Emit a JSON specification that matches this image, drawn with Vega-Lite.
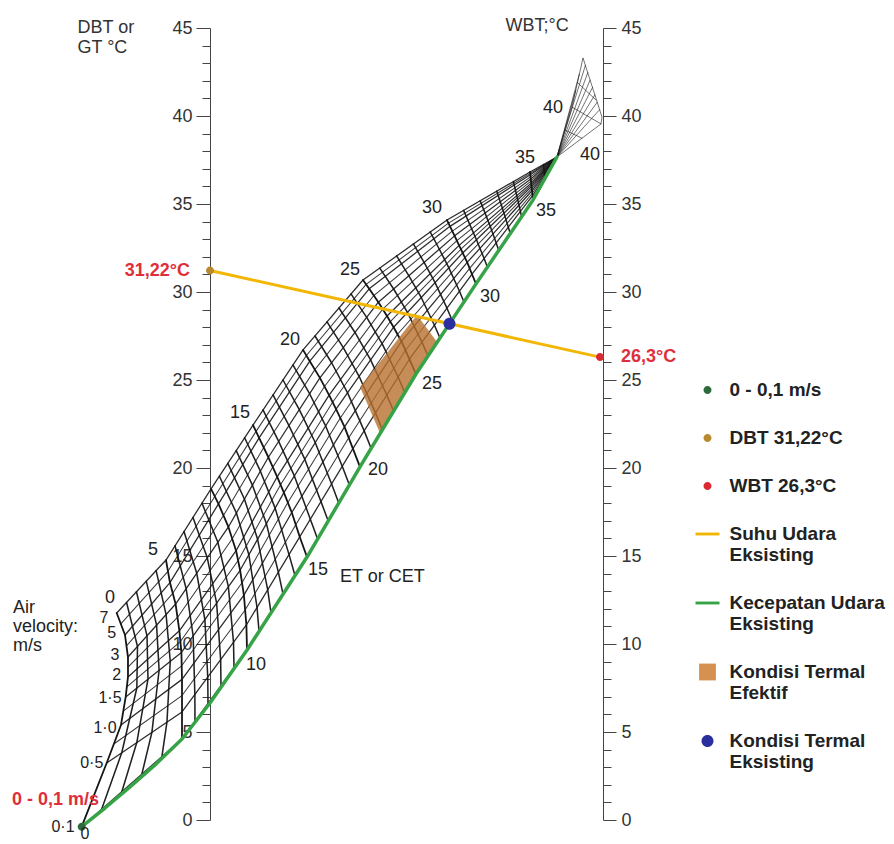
{
"$schema":"https://vega.github.io/schema/vega-lite/v6.json",
"width":393,"height":792,
"autosize":{"type":"none"},
"padding":{"left":210,"top":28,"right":291,"bottom":24},
"background":"white",
"config":{"view":{"stroke":null},"font":"Liberation Sans","text":{"font":"Liberation Sans"}},
"datasets":{
"grid":[
{"line":"v0.1","kind":"velocity major","i":0,"pos":-32.9,"temp":-0.38},{"line":"v0.1","kind":"velocity major","i":1,"pos":-7.18,"temp":4.6},{"line":"v0.1","kind":"velocity major","i":2,"pos":9.49,"temp":9.66},{"line":"v0.1","kind":"velocity major","i":3,"pos":24.87,"temp":14.94},{"line":"v0.1","kind":"velocity major","i":4,"pos":38.46,"temp":20.06},{"line":"v0.1","kind":"velocity major","i":5,"pos":52.82,"temp":25.34},{"line":"v0.1","kind":"velocity major","i":6,"pos":68.21,"temp":30.46},{"line":"v0.1","kind":"velocity major","i":7,"pos":82.82,"temp":35.23},{"line":"v0.1","kind":"velocity major","i":8,"pos":88.97,"temp":37.67},
{"line":"v0.5","kind":"velocity major","i":0,"pos":-26.49,"temp":3.24},{"line":"v0.5","kind":"velocity major","i":1,"pos":-7.18,"temp":6.14},{"line":"v0.5","kind":"velocity major","i":2,"pos":9.33,"temp":11.08},{"line":"v0.5","kind":"velocity major","i":3,"pos":23.0,"temp":16.09},{"line":"v0.5","kind":"velocity major","i":4,"pos":36.64,"temp":21.1},{"line":"v0.5","kind":"velocity major","i":5,"pos":51.13,"temp":26.18},{"line":"v0.5","kind":"velocity major","i":6,"pos":67.18,"temp":31.01},{"line":"v0.5","kind":"velocity major","i":7,"pos":82.71,"temp":35.47},{"line":"v0.5","kind":"velocity major","i":8,"pos":88.97,"temp":37.67},
{"line":"v0.75","kind":"velocity minor","i":0,"pos":-24.66,"temp":4.32},{"line":"v0.75","kind":"velocity minor","i":1,"pos":-7.18,"temp":7.07},{"line":"v0.75","kind":"velocity minor","i":2,"pos":9.01,"temp":11.93},{"line":"v0.75","kind":"velocity minor","i":3,"pos":21.99,"temp":16.78},{"line":"v0.75","kind":"velocity minor","i":4,"pos":35.57,"temp":21.72},{"line":"v0.75","kind":"velocity minor","i":5,"pos":50.12,"temp":26.69},{"line":"v0.75","kind":"velocity minor","i":6,"pos":66.57,"temp":31.34},{"line":"v0.75","kind":"velocity minor","i":7,"pos":82.64,"temp":35.61},{"line":"v0.75","kind":"velocity minor","i":8,"pos":88.97,"temp":37.67},
{"line":"v1.0","kind":"velocity major","i":0,"pos":-22.82,"temp":5.4},{"line":"v1.0","kind":"velocity major","i":1,"pos":-7.18,"temp":7.99},{"line":"v1.0","kind":"velocity major","i":2,"pos":8.69,"temp":12.78},{"line":"v1.0","kind":"velocity major","i":3,"pos":20.97,"temp":17.47},{"line":"v1.0","kind":"velocity major","i":4,"pos":34.49,"temp":22.34},{"line":"v1.0","kind":"velocity major","i":5,"pos":49.1,"temp":27.19},{"line":"v1.0","kind":"velocity major","i":6,"pos":65.95,"temp":31.68},{"line":"v1.0","kind":"velocity major","i":7,"pos":82.56,"temp":35.75},{"line":"v1.0","kind":"velocity major","i":8,"pos":88.97,"temp":37.67},
{"line":"v1.25","kind":"velocity minor","i":0,"pos":-22.22,"temp":6.19},{"line":"v1.25","kind":"velocity minor","i":1,"pos":-7.26,"temp":8.76},{"line":"v1.25","kind":"velocity minor","i":2,"pos":8.21,"temp":13.48},{"line":"v1.25","kind":"velocity minor","i":3,"pos":19.96,"temp":18.04},{"line":"v1.25","kind":"velocity minor","i":4,"pos":33.41,"temp":22.84},{"line":"v1.25","kind":"velocity minor","i":5,"pos":48.09,"temp":27.6},{"line":"v1.25","kind":"velocity minor","i":6,"pos":65.37,"temp":31.95},{"line":"v1.25","kind":"velocity minor","i":7,"pos":82.51,"temp":35.87},{"line":"v1.25","kind":"velocity minor","i":8,"pos":88.97,"temp":37.67},
{"line":"v1.5","kind":"velocity major","i":0,"pos":-21.62,"temp":6.99},{"line":"v1.5","kind":"velocity major","i":1,"pos":-7.33,"temp":9.52},{"line":"v1.5","kind":"velocity major","i":2,"pos":7.72,"temp":14.19},{"line":"v1.5","kind":"velocity major","i":3,"pos":18.95,"temp":18.6},{"line":"v1.5","kind":"velocity major","i":4,"pos":32.33,"temp":23.34},{"line":"v1.5","kind":"velocity major","i":5,"pos":47.08,"temp":28.0},{"line":"v1.5","kind":"velocity major","i":6,"pos":64.79,"temp":32.22},{"line":"v1.5","kind":"velocity major","i":7,"pos":82.45,"temp":35.99},{"line":"v1.5","kind":"velocity major","i":8,"pos":88.97,"temp":37.67},
{"line":"v1.75","kind":"velocity minor","i":0,"pos":-21.33,"temp":7.56},{"line":"v1.75","kind":"velocity minor","i":1,"pos":-7.59,"temp":10.14},{"line":"v1.75","kind":"velocity minor","i":2,"pos":7.21,"temp":14.74},{"line":"v1.75","kind":"velocity minor","i":3,"pos":18.09,"temp":19.05},{"line":"v1.75","kind":"velocity minor","i":4,"pos":31.44,"temp":23.74},{"line":"v1.75","kind":"velocity minor","i":5,"pos":46.23,"temp":28.32},{"line":"v1.75","kind":"velocity minor","i":6,"pos":64.33,"temp":32.43},{"line":"v1.75","kind":"velocity minor","i":7,"pos":82.41,"temp":36.09},{"line":"v1.75","kind":"velocity minor","i":8,"pos":88.97,"temp":37.67},
{"line":"v2","kind":"velocity major","i":0,"pos":-21.03,"temp":8.13},{"line":"v2","kind":"velocity major","i":1,"pos":-7.85,"temp":10.75},{"line":"v2","kind":"velocity major","i":2,"pos":6.69,"temp":15.3},{"line":"v2","kind":"velocity major","i":3,"pos":17.23,"temp":19.5},{"line":"v2","kind":"velocity major","i":4,"pos":30.54,"temp":24.14},{"line":"v2","kind":"velocity major","i":5,"pos":45.38,"temp":28.64},{"line":"v2","kind":"velocity major","i":6,"pos":63.87,"temp":32.65},{"line":"v2","kind":"velocity major","i":7,"pos":82.36,"temp":36.18},{"line":"v2","kind":"velocity major","i":8,"pos":88.97,"temp":37.67},
{"line":"v2.5","kind":"velocity minor","i":0,"pos":-21.03,"temp":8.69},{"line":"v2.5","kind":"velocity minor","i":1,"pos":-8.34,"temp":11.51},{"line":"v2.5","kind":"velocity minor","i":2,"pos":5.71,"temp":15.98},{"line":"v2.5","kind":"velocity minor","i":3,"pos":16.1,"temp":20.05},{"line":"v2.5","kind":"velocity minor","i":4,"pos":29.36,"temp":24.63},{"line":"v2.5","kind":"velocity minor","i":5,"pos":44.28,"temp":29.03},{"line":"v2.5","kind":"velocity minor","i":6,"pos":63.3,"temp":32.92},{"line":"v2.5","kind":"velocity minor","i":7,"pos":82.3,"temp":36.3},{"line":"v2.5","kind":"velocity minor","i":8,"pos":88.97,"temp":37.67},
{"line":"v3","kind":"velocity major","i":0,"pos":-21.03,"temp":9.26},{"line":"v3","kind":"velocity major","i":1,"pos":-8.82,"temp":12.27},{"line":"v3","kind":"velocity major","i":2,"pos":4.72,"temp":16.65},{"line":"v3","kind":"velocity major","i":3,"pos":14.97,"temp":20.61},{"line":"v3","kind":"velocity major","i":4,"pos":28.18,"temp":25.12},{"line":"v3","kind":"velocity major","i":5,"pos":43.18,"temp":29.42},{"line":"v3","kind":"velocity major","i":6,"pos":62.72,"temp":33.19},{"line":"v3","kind":"velocity major","i":7,"pos":82.24,"temp":36.42},{"line":"v3","kind":"velocity major","i":8,"pos":88.97,"temp":37.67},
{"line":"v4","kind":"velocity minor","i":0,"pos":-21.41,"temp":9.89},{"line":"v4","kind":"velocity minor","i":1,"pos":-9.55,"temp":12.88},{"line":"v4","kind":"velocity minor","i":2,"pos":3.45,"temp":17.3},{"line":"v4","kind":"velocity minor","i":3,"pos":13.78,"temp":21.16},{"line":"v4","kind":"velocity minor","i":4,"pos":26.89,"temp":25.59},{"line":"v4","kind":"velocity minor","i":5,"pos":42.0,"temp":29.8},{"line":"v4","kind":"velocity minor","i":6,"pos":62.13,"temp":33.46},{"line":"v4","kind":"velocity minor","i":7,"pos":82.19,"temp":36.54},{"line":"v4","kind":"velocity minor","i":8,"pos":88.97,"temp":37.67},
{"line":"v5","kind":"velocity major","i":0,"pos":-21.79,"temp":10.51},{"line":"v5","kind":"velocity major","i":1,"pos":-10.27,"temp":13.49},{"line":"v5","kind":"velocity major","i":2,"pos":2.18,"temp":17.96},{"line":"v5","kind":"velocity major","i":3,"pos":12.59,"temp":21.71},{"line":"v5","kind":"velocity major","i":4,"pos":25.59,"temp":26.07},{"line":"v5","kind":"velocity major","i":5,"pos":40.82,"temp":30.18},{"line":"v5","kind":"velocity major","i":6,"pos":61.54,"temp":33.73},{"line":"v5","kind":"velocity major","i":7,"pos":82.13,"temp":36.66},{"line":"v5","kind":"velocity major","i":8,"pos":88.97,"temp":37.67},
{"line":"v6","kind":"velocity minor","i":0,"pos":-22.86,"temp":11.14},{"line":"v6","kind":"velocity minor","i":1,"pos":-10.78,"temp":14.13},{"line":"v6","kind":"velocity minor","i":2,"pos":1.22,"temp":18.38},{"line":"v6","kind":"velocity minor","i":3,"pos":11.81,"temp":22.08},{"line":"v6","kind":"velocity minor","i":4,"pos":24.72,"temp":26.39},{"line":"v6","kind":"velocity minor","i":5,"pos":40.03,"temp":30.43},{"line":"v6","kind":"velocity minor","i":6,"pos":61.16,"temp":33.91},{"line":"v6","kind":"velocity minor","i":7,"pos":82.09,"temp":36.74},{"line":"v6","kind":"velocity minor","i":8,"pos":88.97,"temp":37.67},
{"line":"v7","kind":"velocity major","i":0,"pos":-23.92,"temp":11.76},{"line":"v7","kind":"velocity major","i":1,"pos":-11.28,"temp":14.77},{"line":"v7","kind":"velocity major","i":2,"pos":0.26,"temp":18.81},{"line":"v7","kind":"velocity major","i":3,"pos":11.03,"temp":22.44},{"line":"v7","kind":"velocity major","i":4,"pos":23.85,"temp":26.71},{"line":"v7","kind":"velocity major","i":5,"pos":39.23,"temp":30.68},{"line":"v7","kind":"velocity major","i":6,"pos":60.77,"temp":34.09},{"line":"v7","kind":"velocity major","i":7,"pos":82.05,"temp":36.82},{"line":"v7","kind":"velocity major","i":8,"pos":88.97,"temp":37.67},
{"line":"ET0","kind":"ET major","i":0,"pos":-32.9,"temp":-0.38},{"line":"ET0","kind":"ET major","i":1,"pos":-26.49,"temp":3.24},{"line":"ET0","kind":"ET major","i":2,"pos":-22.82,"temp":5.4},{"line":"ET0","kind":"ET major","i":3,"pos":-21.62,"temp":6.99},{"line":"ET0","kind":"ET major","i":4,"pos":-21.03,"temp":8.13},{"line":"ET0","kind":"ET major","i":5,"pos":-21.03,"temp":9.26},{"line":"ET0","kind":"ET major","i":6,"pos":-21.79,"temp":10.51},{"line":"ET0","kind":"ET major","i":7,"pos":-23.92,"temp":11.76},
{"line":"ET5","kind":"ET major","i":0,"pos":-7.18,"temp":4.6},{"line":"ET5","kind":"ET major","i":1,"pos":-7.18,"temp":6.14},{"line":"ET5","kind":"ET major","i":2,"pos":-7.18,"temp":7.99},{"line":"ET5","kind":"ET major","i":3,"pos":-7.33,"temp":9.52},{"line":"ET5","kind":"ET major","i":4,"pos":-7.85,"temp":10.75},{"line":"ET5","kind":"ET major","i":5,"pos":-8.82,"temp":12.27},{"line":"ET5","kind":"ET major","i":6,"pos":-10.27,"temp":13.49},{"line":"ET5","kind":"ET major","i":7,"pos":-11.28,"temp":14.77},
{"line":"ET10","kind":"ET major","i":0,"pos":9.49,"temp":9.66},{"line":"ET10","kind":"ET major","i":1,"pos":9.33,"temp":11.08},{"line":"ET10","kind":"ET major","i":2,"pos":8.69,"temp":12.78},{"line":"ET10","kind":"ET major","i":3,"pos":7.72,"temp":14.19},{"line":"ET10","kind":"ET major","i":4,"pos":6.69,"temp":15.3},{"line":"ET10","kind":"ET major","i":5,"pos":4.72,"temp":16.65},{"line":"ET10","kind":"ET major","i":6,"pos":2.18,"temp":17.96},{"line":"ET10","kind":"ET major","i":7,"pos":0.26,"temp":18.81},
{"line":"ET15","kind":"ET major","i":0,"pos":24.87,"temp":14.94},{"line":"ET15","kind":"ET major","i":1,"pos":23.0,"temp":16.09},{"line":"ET15","kind":"ET major","i":2,"pos":20.97,"temp":17.47},{"line":"ET15","kind":"ET major","i":3,"pos":18.95,"temp":18.6},{"line":"ET15","kind":"ET major","i":4,"pos":17.23,"temp":19.5},{"line":"ET15","kind":"ET major","i":5,"pos":14.97,"temp":20.61},{"line":"ET15","kind":"ET major","i":6,"pos":12.59,"temp":21.71},{"line":"ET15","kind":"ET major","i":7,"pos":11.03,"temp":22.44},
{"line":"ET20","kind":"ET major","i":0,"pos":38.46,"temp":20.06},{"line":"ET20","kind":"ET major","i":1,"pos":36.64,"temp":21.1},{"line":"ET20","kind":"ET major","i":2,"pos":34.49,"temp":22.34},{"line":"ET20","kind":"ET major","i":3,"pos":32.33,"temp":23.34},{"line":"ET20","kind":"ET major","i":4,"pos":30.54,"temp":24.14},{"line":"ET20","kind":"ET major","i":5,"pos":28.18,"temp":25.12},{"line":"ET20","kind":"ET major","i":6,"pos":25.59,"temp":26.07},{"line":"ET20","kind":"ET major","i":7,"pos":23.85,"temp":26.71},
{"line":"ET25","kind":"ET major","i":0,"pos":52.82,"temp":25.34},{"line":"ET25","kind":"ET major","i":1,"pos":51.13,"temp":26.18},{"line":"ET25","kind":"ET major","i":2,"pos":49.1,"temp":27.19},{"line":"ET25","kind":"ET major","i":3,"pos":47.08,"temp":28.0},{"line":"ET25","kind":"ET major","i":4,"pos":45.38,"temp":28.64},{"line":"ET25","kind":"ET major","i":5,"pos":43.18,"temp":29.42},{"line":"ET25","kind":"ET major","i":6,"pos":40.82,"temp":30.18},{"line":"ET25","kind":"ET major","i":7,"pos":39.23,"temp":30.68},
{"line":"ET30","kind":"ET major","i":0,"pos":68.21,"temp":30.46},{"line":"ET30","kind":"ET major","i":1,"pos":67.18,"temp":31.01},{"line":"ET30","kind":"ET major","i":2,"pos":65.95,"temp":31.68},{"line":"ET30","kind":"ET major","i":3,"pos":64.79,"temp":32.22},{"line":"ET30","kind":"ET major","i":4,"pos":63.87,"temp":32.65},{"line":"ET30","kind":"ET major","i":5,"pos":62.72,"temp":33.19},{"line":"ET30","kind":"ET major","i":6,"pos":61.54,"temp":33.73},{"line":"ET30","kind":"ET major","i":7,"pos":60.77,"temp":34.09},
{"line":"ET35","kind":"ET major","i":0,"pos":82.82,"temp":35.23},{"line":"ET35","kind":"ET major","i":1,"pos":82.71,"temp":35.47},{"line":"ET35","kind":"ET major","i":2,"pos":82.56,"temp":35.75},{"line":"ET35","kind":"ET major","i":3,"pos":82.45,"temp":35.99},{"line":"ET35","kind":"ET major","i":4,"pos":82.36,"temp":36.18},{"line":"ET35","kind":"ET major","i":5,"pos":82.24,"temp":36.42},{"line":"ET35","kind":"ET major","i":6,"pos":82.13,"temp":36.66},{"line":"ET35","kind":"ET major","i":7,"pos":82.05,"temp":36.82},
{"line":"ET1","kind":"ET minor","i":0,"pos":-27.76,"temp":0.62},{"line":"ET1","kind":"ET minor","i":1,"pos":-22.63,"temp":3.82},{"line":"ET1","kind":"ET minor","i":2,"pos":-18.76,"temp":7.5},{"line":"ET1","kind":"ET minor","i":3,"pos":-18.59,"temp":9.86},{"line":"ET1","kind":"ET minor","i":4,"pos":-21.39,"temp":12.36},
{"line":"ET2","kind":"ET minor","i":0,"pos":-22.61,"temp":1.61},{"line":"ET2","kind":"ET minor","i":1,"pos":-18.77,"temp":4.4},{"line":"ET2","kind":"ET minor","i":2,"pos":-15.9,"temp":8.0},{"line":"ET2","kind":"ET minor","i":3,"pos":-16.15,"temp":10.46},{"line":"ET2","kind":"ET minor","i":4,"pos":-18.86,"temp":12.97},
{"line":"ET3","kind":"ET minor","i":0,"pos":-17.47,"temp":2.61},{"line":"ET3","kind":"ET minor","i":1,"pos":-14.9,"temp":4.98},{"line":"ET3","kind":"ET minor","i":2,"pos":-13.05,"temp":8.51},{"line":"ET3","kind":"ET minor","i":3,"pos":-13.7,"temp":11.07},{"line":"ET3","kind":"ET minor","i":4,"pos":-16.34,"temp":13.57},
{"line":"ET4","kind":"ET minor","i":0,"pos":-12.32,"temp":3.61},{"line":"ET4","kind":"ET minor","i":1,"pos":-11.04,"temp":5.56},{"line":"ET4","kind":"ET minor","i":2,"pos":-10.19,"temp":9.02},{"line":"ET4","kind":"ET minor","i":3,"pos":-11.26,"temp":11.67},{"line":"ET4","kind":"ET minor","i":4,"pos":-13.81,"temp":14.17},
{"line":"ET6","kind":"ET minor","i":0,"pos":-3.85,"temp":5.61},{"line":"ET6","kind":"ET minor","i":1,"pos":-3.88,"temp":7.13},{"line":"ET6","kind":"ET minor","i":2,"pos":-4.32,"temp":10.46},{"line":"ET6","kind":"ET minor","i":3,"pos":-6.11,"temp":13.14},{"line":"ET6","kind":"ET minor","i":4,"pos":-8.97,"temp":15.58},
{"line":"ET7","kind":"ET minor","i":0,"pos":-0.51,"temp":6.63},{"line":"ET7","kind":"ET minor","i":1,"pos":-0.58,"temp":8.12},{"line":"ET7","kind":"ET minor","i":2,"pos":-1.31,"temp":11.39},{"line":"ET7","kind":"ET minor","i":3,"pos":-3.4,"temp":14.02},{"line":"ET7","kind":"ET minor","i":4,"pos":-6.66,"temp":16.39},
{"line":"ET8","kind":"ET minor","i":0,"pos":2.82,"temp":7.64},{"line":"ET8","kind":"ET minor","i":1,"pos":2.73,"temp":9.11},{"line":"ET8","kind":"ET minor","i":2,"pos":1.7,"temp":12.32},{"line":"ET8","kind":"ET minor","i":3,"pos":-0.7,"temp":14.9},{"line":"ET8","kind":"ET minor","i":4,"pos":-4.36,"temp":17.19},
{"line":"ET9","kind":"ET minor","i":0,"pos":6.16,"temp":8.65},{"line":"ET9","kind":"ET minor","i":1,"pos":6.03,"temp":10.09},{"line":"ET9","kind":"ET minor","i":2,"pos":4.71,"temp":13.26},{"line":"ET9","kind":"ET minor","i":3,"pos":2.01,"temp":15.78},{"line":"ET9","kind":"ET minor","i":4,"pos":-2.05,"temp":18.0},
{"line":"ET11","kind":"ET minor","i":0,"pos":12.57,"temp":10.72},{"line":"ET11","kind":"ET minor","i":1,"pos":12.06,"temp":12.08},{"line":"ET11","kind":"ET minor","i":2,"pos":9.97,"temp":15.07},{"line":"ET11","kind":"ET minor","i":3,"pos":6.77,"temp":17.44},{"line":"ET11","kind":"ET minor","i":4,"pos":2.41,"temp":19.53},
{"line":"ET12","kind":"ET minor","i":0,"pos":15.64,"temp":11.77},{"line":"ET12","kind":"ET minor","i":1,"pos":14.8,"temp":13.08},{"line":"ET12","kind":"ET minor","i":2,"pos":12.21,"temp":15.95},{"line":"ET12","kind":"ET minor","i":3,"pos":8.82,"temp":18.24},{"line":"ET12","kind":"ET minor","i":4,"pos":4.57,"temp":20.26},
{"line":"ET13","kind":"ET minor","i":0,"pos":18.72,"temp":12.83},{"line":"ET13","kind":"ET minor","i":1,"pos":17.53,"temp":14.08},{"line":"ET13","kind":"ET minor","i":2,"pos":14.46,"temp":16.84},{"line":"ET13","kind":"ET minor","i":3,"pos":10.87,"temp":19.03},{"line":"ET13","kind":"ET minor","i":4,"pos":6.72,"temp":20.99},
{"line":"ET14","kind":"ET minor","i":0,"pos":21.79,"temp":13.89},{"line":"ET14","kind":"ET minor","i":1,"pos":20.27,"temp":15.08},{"line":"ET14","kind":"ET minor","i":2,"pos":16.7,"temp":17.72},{"line":"ET14","kind":"ET minor","i":3,"pos":12.92,"temp":19.82},{"line":"ET14","kind":"ET minor","i":4,"pos":8.88,"temp":21.72},
{"line":"ET16","kind":"ET minor","i":0,"pos":27.59,"temp":15.97},{"line":"ET16","kind":"ET minor","i":1,"pos":25.73,"temp":17.09},{"line":"ET16","kind":"ET minor","i":2,"pos":21.63,"temp":19.55},{"line":"ET16","kind":"ET minor","i":3,"pos":17.61,"temp":21.51},{"line":"ET16","kind":"ET minor","i":4,"pos":13.59,"temp":23.3},
{"line":"ET17","kind":"ET minor","i":0,"pos":30.31,"temp":16.99},{"line":"ET17","kind":"ET minor","i":1,"pos":28.46,"temp":18.09},{"line":"ET17","kind":"ET minor","i":2,"pos":24.3,"temp":20.5},{"line":"ET17","kind":"ET minor","i":3,"pos":20.25,"temp":22.41},{"line":"ET17","kind":"ET minor","i":4,"pos":16.16,"temp":24.15},
{"line":"ET18","kind":"ET minor","i":0,"pos":33.02,"temp":18.01},{"line":"ET18","kind":"ET minor","i":1,"pos":31.18,"temp":19.09},{"line":"ET18","kind":"ET minor","i":2,"pos":26.98,"temp":21.45},{"line":"ET18","kind":"ET minor","i":3,"pos":22.9,"temp":23.32},{"line":"ET18","kind":"ET minor","i":4,"pos":18.72,"temp":25.0},
{"line":"ET19","kind":"ET minor","i":0,"pos":35.74,"temp":19.03},{"line":"ET19","kind":"ET minor","i":1,"pos":33.91,"temp":20.1},{"line":"ET19","kind":"ET minor","i":2,"pos":29.65,"temp":22.39},{"line":"ET19","kind":"ET minor","i":3,"pos":25.54,"temp":24.22},{"line":"ET19","kind":"ET minor","i":4,"pos":21.29,"temp":25.85},
{"line":"ET21","kind":"ET minor","i":0,"pos":41.33,"temp":21.11},{"line":"ET21","kind":"ET minor","i":1,"pos":39.54,"temp":22.11},{"line":"ET21","kind":"ET minor","i":2,"pos":35.28,"temp":24.27},{"line":"ET21","kind":"ET minor","i":3,"pos":31.18,"temp":25.98},{"line":"ET21","kind":"ET minor","i":4,"pos":26.93,"temp":27.5},
{"line":"ET22","kind":"ET minor","i":0,"pos":44.2,"temp":22.17},{"line":"ET22","kind":"ET minor","i":1,"pos":42.44,"temp":23.13},{"line":"ET22","kind":"ET minor","i":2,"pos":38.23,"temp":25.21},{"line":"ET22","kind":"ET minor","i":3,"pos":34.18,"temp":26.84},{"line":"ET22","kind":"ET minor","i":4,"pos":30.0,"temp":28.3},
{"line":"ET23","kind":"ET minor","i":0,"pos":47.08,"temp":23.23},{"line":"ET23","kind":"ET minor","i":1,"pos":45.33,"temp":24.15},{"line":"ET23","kind":"ET minor","i":2,"pos":41.18,"temp":26.14},{"line":"ET23","kind":"ET minor","i":3,"pos":37.18,"temp":27.7},{"line":"ET23","kind":"ET minor","i":4,"pos":33.08,"temp":29.09},
{"line":"ET24","kind":"ET minor","i":0,"pos":49.95,"temp":24.28},{"line":"ET24","kind":"ET minor","i":1,"pos":48.23,"temp":25.17},{"line":"ET24","kind":"ET minor","i":2,"pos":44.13,"temp":27.07},{"line":"ET24","kind":"ET minor","i":3,"pos":40.18,"temp":28.56},{"line":"ET24","kind":"ET minor","i":4,"pos":36.15,"temp":29.89},
{"line":"ET26","kind":"ET minor","i":0,"pos":55.9,"temp":26.36},{"line":"ET26","kind":"ET minor","i":1,"pos":54.34,"temp":27.15},{"line":"ET26","kind":"ET minor","i":2,"pos":50.62,"temp":28.84},{"line":"ET26","kind":"ET minor","i":3,"pos":47.09,"temp":30.17},{"line":"ET26","kind":"ET minor","i":4,"pos":43.54,"temp":31.36},
{"line":"ET27","kind":"ET minor","i":0,"pos":58.98,"temp":27.39},{"line":"ET27","kind":"ET minor","i":1,"pos":57.55,"temp":28.11},{"line":"ET27","kind":"ET minor","i":2,"pos":54.16,"temp":29.69},{"line":"ET27","kind":"ET minor","i":3,"pos":51.0,"temp":30.92},{"line":"ET27","kind":"ET minor","i":4,"pos":47.85,"temp":32.05},
{"line":"ET28","kind":"ET minor","i":0,"pos":62.05,"temp":28.41},{"line":"ET28","kind":"ET minor","i":1,"pos":60.76,"temp":29.08},{"line":"ET28","kind":"ET minor","i":2,"pos":57.71,"temp":30.53},{"line":"ET28","kind":"ET minor","i":3,"pos":54.9,"temp":31.68},{"line":"ET28","kind":"ET minor","i":4,"pos":52.15,"temp":32.73},
{"line":"ET29","kind":"ET minor","i":0,"pos":65.13,"temp":29.43},{"line":"ET29","kind":"ET minor","i":1,"pos":63.97,"temp":30.04},{"line":"ET29","kind":"ET minor","i":2,"pos":61.25,"temp":31.37},{"line":"ET29","kind":"ET minor","i":3,"pos":58.81,"temp":32.43},{"line":"ET29","kind":"ET minor","i":4,"pos":56.46,"temp":33.41},
{"line":"ET31","kind":"ET minor","i":0,"pos":71.13,"temp":31.41},{"line":"ET31","kind":"ET minor","i":1,"pos":70.29,"temp":31.9},{"line":"ET31","kind":"ET minor","i":2,"pos":68.32,"temp":32.97},{"line":"ET31","kind":"ET minor","i":3,"pos":66.62,"temp":33.83},{"line":"ET31","kind":"ET minor","i":4,"pos":65.03,"temp":34.64},
{"line":"ET32","kind":"ET minor","i":0,"pos":74.05,"temp":32.36},{"line":"ET32","kind":"ET minor","i":1,"pos":73.39,"temp":32.79},{"line":"ET32","kind":"ET minor","i":2,"pos":71.85,"temp":33.73},{"line":"ET32","kind":"ET minor","i":3,"pos":70.53,"temp":34.48},{"line":"ET32","kind":"ET minor","i":4,"pos":69.28,"temp":35.18},
{"line":"ET33","kind":"ET minor","i":0,"pos":76.98,"temp":33.32},{"line":"ET33","kind":"ET minor","i":1,"pos":76.5,"temp":33.68},{"line":"ET33","kind":"ET minor","i":2,"pos":75.39,"temp":34.48},{"line":"ET33","kind":"ET minor","i":3,"pos":74.43,"temp":35.13},{"line":"ET33","kind":"ET minor","i":4,"pos":73.54,"temp":35.73},
{"line":"ET34","kind":"ET minor","i":0,"pos":79.9,"temp":34.27},{"line":"ET34","kind":"ET minor","i":1,"pos":79.6,"temp":34.57},{"line":"ET34","kind":"ET minor","i":2,"pos":78.92,"temp":35.23},{"line":"ET34","kind":"ET minor","i":3,"pos":78.34,"temp":35.77},{"line":"ET34","kind":"ET minor","i":4,"pos":77.79,"temp":36.27},
{"line":"ET36","kind":"ET minor","i":0,"pos":85.9,"temp":36.45},{"line":"ET36","kind":"ET minor","i":1,"pos":85.84,"temp":36.57},{"line":"ET36","kind":"ET minor","i":2,"pos":85.71,"temp":36.83},{"line":"ET36","kind":"ET minor","i":3,"pos":85.61,"temp":37.05},{"line":"ET36","kind":"ET minor","i":4,"pos":85.51,"temp":37.24},
{"line":"fan0","kind":"fan","i":0,"pos":88.97,"temp":37.67},{"line":"fan0","kind":"fan","i":1,"pos":92.82,"temp":40.51},{"line":"fan0","kind":"fan","i":2,"pos":95.64,"temp":43.3},{"line":"fan0","kind":"fan","i":3,"pos":100.51,"temp":39.94},{"line":"fan0","kind":"fan","i":4,"pos":100.26,"temp":39.55},{"line":"fan0","kind":"fan","i":5,"pos":88.97,"temp":37.67},
{"line":"fan1","kind":"fan","i":0,"pos":88.97,"temp":37.67},{"line":"fan1","kind":"fan","i":1,"pos":96.26,"temp":42.88},
{"line":"fan2","kind":"fan","i":0,"pos":88.97,"temp":37.67},{"line":"fan2","kind":"fan","i":1,"pos":96.86,"temp":42.46},
{"line":"fan3","kind":"fan","i":0,"pos":88.97,"temp":37.67},{"line":"fan3","kind":"fan","i":1,"pos":97.46,"temp":42.04},
{"line":"fan4","kind":"fan","i":0,"pos":88.97,"temp":37.67},{"line":"fan4","kind":"fan","i":1,"pos":98.08,"temp":41.62},
{"line":"fan5","kind":"fan","i":0,"pos":88.97,"temp":37.67},{"line":"fan5","kind":"fan","i":1,"pos":98.69,"temp":41.2},
{"line":"fan6","kind":"fan","i":0,"pos":88.97,"temp":37.67},{"line":"fan6","kind":"fan","i":1,"pos":99.29,"temp":40.78},
{"line":"fan7","kind":"fan","i":0,"pos":88.97,"temp":37.67},{"line":"fan7","kind":"fan","i":1,"pos":99.9,"temp":40.36},
{"line":"fan8","kind":"fan","i":0,"pos":88.97,"temp":37.67},{"line":"fan8","kind":"fan","i":1,"pos":93.77,"temp":41.44},
{"line":"fan9","kind":"fan","i":0,"pos":88.97,"temp":37.67},{"line":"fan9","kind":"fan","i":1,"pos":94.69,"temp":42.37},
{"line":"fanc1","kind":"fan","i":0,"pos":92.82,"temp":40.51},{"line":"fanc1","kind":"fan","i":1,"pos":100.26,"temp":39.55},
{"line":"fanc2","kind":"fan","i":0,"pos":94.23,"temp":41.9},{"line":"fanc2","kind":"fan","i":1,"pos":98.97,"temp":40.91},
{"line":"fanc3","kind":"fan","i":0,"pos":91.03,"temp":39.2},{"line":"fanc3","kind":"fan","i":1,"pos":95.38,"temp":38.74}
],
"green":[
{"item":"Kecepatan Udara Eksisting","pos":-32.9,"temp":-0.38},{"item":"Kecepatan Udara Eksisting","pos":-26.92,"temp":0.68},{"item":"Kecepatan Udara Eksisting","pos":-20.51,"temp":1.88},{"item":"Kecepatan Udara Eksisting","pos":-14.1,"temp":3.13},{"item":"Kecepatan Udara Eksisting","pos":-7.18,"temp":4.6},{"item":"Kecepatan Udara Eksisting","pos":0,"temp":6.65},{"item":"Kecepatan Udara Eksisting","pos":9.49,"temp":9.66},{"item":"Kecepatan Udara Eksisting","pos":24.87,"temp":14.94},{"item":"Kecepatan Udara Eksisting","pos":38.46,"temp":20.06},{"item":"Kecepatan Udara Eksisting","pos":52.82,"temp":25.34},{"item":"Kecepatan Udara Eksisting","pos":68.21,"temp":30.46},{"item":"Kecepatan Udara Eksisting","pos":82.82,"temp":35.23},{"item":"Kecepatan Udara Eksisting","pos":88.97,"temp":37.67}
],
"dbtwbt":[{"item":"Suhu Udara Eksisting","pos":0,"temp":31.22},{"item":"Suhu Udara Eksisting","pos":100,"temp":26.3}],
"zone":[
{"item":"Kondisi Termal Efektif","pos":38.46,"low":24.6,"high":24.6},{"item":"Kondisi Termal Efektif","pos":43.59,"low":21.99,"high":26.04},{"item":"Kondisi Termal Efektif","pos":53.08,"low":25.35,"high":28.69},{"item":"Kondisi Termal Efektif","pos":58.21,"low":27.16,"high":27.16}
],
"points":[
{"item":"0 - 0,1 m/s","pos":-32.9,"temp":-0.38},{"item":"DBT 31,22°C","pos":0,"temp":31.22},{"item":"WBT 26,3°C","pos":100,"temp":26.3},{"item":"Kondisi Termal Eksisting","pos":61.41,"temp":28.2}
],
"labels":[
{"text":"0","pos":-25.64,"temp":12.6},{"text":"5","pos":-14.62,"temp":15.34},{"text":"15","pos":7.69,"temp":23.13},{"text":"20","pos":20.51,"temp":27.27},{"text":"25","pos":35.9,"temp":31.25},{"text":"30","pos":56.92,"temp":34.77},{"text":"35","pos":80.77,"temp":37.61},{"text":"40","pos":87.95,"temp":40.45},
{"text":"10","pos":11.79,"temp":8.81},{"text":"15","pos":27.69,"temp":14.2},{"text":"20","pos":43.08,"temp":19.89},{"text":"25","pos":56.92,"temp":24.77},{"text":"30","pos":71.79,"temp":29.72},{"text":"35","pos":86.15,"temp":34.6},{"text":"40","pos":97.44,"temp":37.78}
],
"vlabels":[
{"text":"7","pos":-27.2,"temp":11.5},{"text":"5","pos":-25.21,"temp":10.63},{"text":"3","pos":-24.36,"temp":9.38},{"text":"2","pos":-23.92,"temp":8.24},{"text":"1·5","pos":-25.64,"temp":6.93},{"text":"1·0","pos":-26.92,"temp":5.23},{"text":"0·5","pos":-30.33,"temp":3.24},{"text":"0·1","pos":-37.69,"temp":-0.4},{"text":"0","pos":-32.05,"temp":-0.8}
],
"notes":[
{"text":"ET or CET","pos":33.33,"temp":13.81},{"text":"Air","pos":-50.51,"temp":12.05},{"text":"velocity:","pos":-50.51,"temp":10.97},{"text":"m/s","pos":-50.51,"temp":9.89}
],
"redleft":[{"text":"26,3°C","pos":105.38,"temp":26.3},{"text":"0 - 0,1 m/s","pos":-50.77,"temp":1.14}],
"redright":[{"text":"31,22°C","pos":-5.13,"temp":31.22}]
},
"layer":[
{"data":{"name":"grid"},
 "mark":{"type":"line","color":"#151515","strokeJoin":"round","strokeCap":"round"},
 "encoding":{
  "x":{"field":"pos","type":"quantitative","scale":{"domain":[0,100.77],"nice":false,"zero":false},"axis":null},
  "y":{"field":"temp","type":"quantitative","scale":{"domain":[0,45],"nice":false,"zero":false},
   "axis":{"orient":"left","values":[0,1,2,3,4,5,6,7,8,9,10,11,12,13,14,15,16,17,18,19,20,21,22,23,24,25,26,27,28,29,30,31,32,33,34,35,36,37,38,39,40,41,42,43,44,45],
    "labelExpr":"datum.value % 5 === 0 ? datum.label : ''",
    "tickSize":{"condition":{"test":"datum.value % 5 === 0","value":14},"value":8},
    "grid":false,"domainColor":"#444","tickColor":"#444","domainWidth":1,"tickWidth":1,
    "labelFont":"Liberation Sans","labelFontSize":18,"labelColor":"#333","labelPadding":4,"labelOverlap":false,"labelFlush":false,"labelBound":false,
    "title":["DBT or","GT °C"],"titleAngle":0,"titleX":-133,"titleY":-10,"titleAlign":"left","titleBaseline":"top","titleFont":"Liberation Sans","titleFontSize":18,"titleFontWeight":"normal","titleColor":"#333","titleLineHeight":20}},
  "detail":{"field":"line"},
  "order":{"field":"i","type":"quantitative"},
  "strokeWidth":{"field":"kind","type":"nominal","scale":{"domain":["ET major","ET minor","velocity major","velocity minor","fan"],"range":[1.8,0.75,1.15,0.75,0.8]},"legend":null},
  "opacity":{"field":"kind","type":"nominal","scale":{"domain":["ET major","ET minor","velocity major","velocity minor","fan"],"range":[1,0.8,1,0.85,0.9]},"legend":null}
 }},
{"data":{"name":"zone"},
 "mark":{"type":"area","opacity":0.8},
 "encoding":{
  "x":{"field":"pos","type":"quantitative","axis":null},
  "y":{"field":"low","type":"quantitative","axis":null},
  "y2":{"field":"high"},
  "fill":{"field":"item","type":"nominal","scale":{"domain":["Kondisi Termal Efektif"],"range":["#b9702f"]},"legend":null}
 }},
{"data":{"name":"green"},
 "mark":{"type":"line","strokeWidth":3.5,"strokeCap":"round","strokeJoin":"round"},
 "encoding":{
  "x":{"field":"pos","type":"quantitative","axis":null},
  "y":{"field":"temp","type":"quantitative","axis":null},
  "stroke":{"field":"item","type":"nominal","scale":{"domain":["Suhu Udara Eksisting","Kecepatan Udara Eksisting"],"range":["#f2b705","#36a346"]},"legend":null}
 }},
{"data":{"name":"dbtwbt"},
 "mark":{"type":"line","strokeWidth":3},
 "encoding":{
  "x":{"field":"pos","type":"quantitative","axis":null},
  "y":{"field":"temp","type":"quantitative","scale":{"domain":[0,45],"nice":false,"zero":false},
   "axis":{"orient":"right","values":[0,1,2,3,4,5,6,7,8,9,10,11,12,13,14,15,16,17,18,19,20,21,22,23,24,25,26,27,28,29,30,31,32,33,34,35,36,37,38,39,40,41,42,43,44,45],
    "labelExpr":"datum.value % 5 === 0 ? datum.label : ''",
    "tickSize":{"condition":{"test":"datum.value % 5 === 0","value":13},"value":8},
    "grid":false,"domainColor":"#444","tickColor":"#444","domainWidth":1,"tickWidth":1,
    "labelFont":"Liberation Sans","labelFontSize":18,"labelColor":"#333","labelPadding":5,"labelOverlap":false,"labelFlush":false,"labelBound":false,
    "title":"WBT;°C","titleAngle":0,"titleX":-98,"titleY":-12,"titleAlign":"left","titleBaseline":"top","titleFont":"Liberation Sans","titleFontSize":18,"titleFontWeight":"normal","titleColor":"#333"}},
  "stroke":{"field":"item","type":"nominal","legend":null}
 }},
{"data":{"name":"points"},
 "mark":{"type":"point","filled":true,"opacity":1,"size":576,"strokeWidth":0},
 "encoding":{
  "x":{"field":"pos","type":"quantitative","axis":null},
  "y":{"field":"temp","type":"quantitative","axis":null},
  "color":{"field":"item","type":"nominal",
   "scale":{"domain":["0 - 0,1 m/s","DBT 31,22°C","WBT 26,3°C","Suhu Udara Eksisting","Kecepatan Udara Eksisting","Kondisi Termal Efektif","Kondisi Termal Eksisting"],"range":["#2d6a3e","#b8892f","#dd2a32","#f2b705","#36a346","#d4914f","#2b2f9e"]},
   "legend":{"orient":"none","legendX":485.5,"legendY":350,"title":null,"padding":0,"offset":0,
    "labelFont":"Liberation Sans","labelFontSize":19,"labelFontWeight":"bold","labelColor":"#222","labelLimit":400,"labelOffset":10,"rowPadding":26,"symbolSize":576,"symbolStrokeWidth":0,
    "labelExpr":"test(regexp(' (Eksisting|Efektif)$'), datum.label) ? [replace(datum.label, regexp(' (Eksisting|Efektif)$'), ''), replace(datum.label, regexp('^.* '), '')] : datum.label"}},
  "shape":{"field":"item","type":"nominal",
   "scale":{"domain":["0 - 0,1 m/s","DBT 31,22°C","WBT 26,3°C","Suhu Udara Eksisting","Kecepatan Udara Eksisting","Kondisi Termal Efektif","Kondisi Termal Eksisting"],
    "range":["M-0.333,0A0.333,0.333,0,1,0,0.333,0A0.333,0.333,0,1,0,-0.333,0Z","M-0.333,0A0.333,0.333,0,1,0,0.333,0A0.333,0.333,0,1,0,-0.333,0Z","M-0.333,0A0.333,0.333,0,1,0,0.333,0A0.333,0.333,0,1,0,-0.333,0Z","M-1,-0.12H1V0.12H-1Z","M-1,-0.12H1V0.12H-1Z","M-0.7,-0.7H0.7V0.7H-0.7Z","M-0.5,0A0.5,0.5,0,1,0,0.5,0A0.5,0.5,0,1,0,-0.5,0Z"]},
   "legend":{"orient":"none","legendX":485.5,"legendY":350,"title":null,"padding":0,"offset":0,
    "labelFont":"Liberation Sans","labelFontSize":19,"labelFontWeight":"bold","labelColor":"#222","labelLimit":400,"labelOffset":10,"rowPadding":26,"symbolSize":576,"symbolStrokeWidth":0,
    "labelExpr":"test(regexp(' (Eksisting|Efektif)$'), datum.label) ? [replace(datum.label, regexp(' (Eksisting|Efektif)$'), ''), replace(datum.label, regexp('^.* '), '')] : datum.label"}}
 }},
{"data":{"name":"labels"},
 "mark":{"type":"text","fontSize":18,"color":"#222","align":"center","baseline":"middle","font":"Liberation Sans"},
 "encoding":{
  "x":{"field":"pos","type":"quantitative","axis":null},
  "y":{"field":"temp","type":"quantitative","axis":null},
  "text":{"field":"text"}
 }},
{"data":{"name":"vlabels"},
 "mark":{"type":"text","fontSize":16,"color":"#222","align":"center","baseline":"middle","font":"Liberation Sans"},
 "encoding":{
  "x":{"field":"pos","type":"quantitative","axis":null},
  "y":{"field":"temp","type":"quantitative","axis":null},
  "text":{"field":"text"}
 }},
{"data":{"name":"notes"},
 "mark":{"type":"text","fontSize":18,"color":"#222","align":"left","baseline":"middle","font":"Liberation Sans"},
 "encoding":{
  "x":{"field":"pos","type":"quantitative","axis":null},
  "y":{"field":"temp","type":"quantitative","axis":null},
  "text":{"field":"text"}
 }},
{"data":{"name":"redleft"},
 "mark":{"type":"text","fontSize":18,"fontWeight":"bold","color":"#de2f3b","align":"left","baseline":"middle","font":"Liberation Sans"},
 "encoding":{
  "x":{"field":"pos","type":"quantitative","axis":null},
  "y":{"field":"temp","type":"quantitative","axis":null},
  "text":{"field":"text"}
 }},
{"data":{"name":"redright"},
 "mark":{"type":"text","fontSize":18,"fontWeight":"bold","color":"#de2f3b","align":"right","baseline":"middle","font":"Liberation Sans"},
 "encoding":{
  "x":{"field":"pos","type":"quantitative","axis":null},
  "y":{"field":"temp","type":"quantitative","axis":null},
  "text":{"field":"text"}
 }}
],
"resolve":{"axis":{"y":"independent"}}
}
